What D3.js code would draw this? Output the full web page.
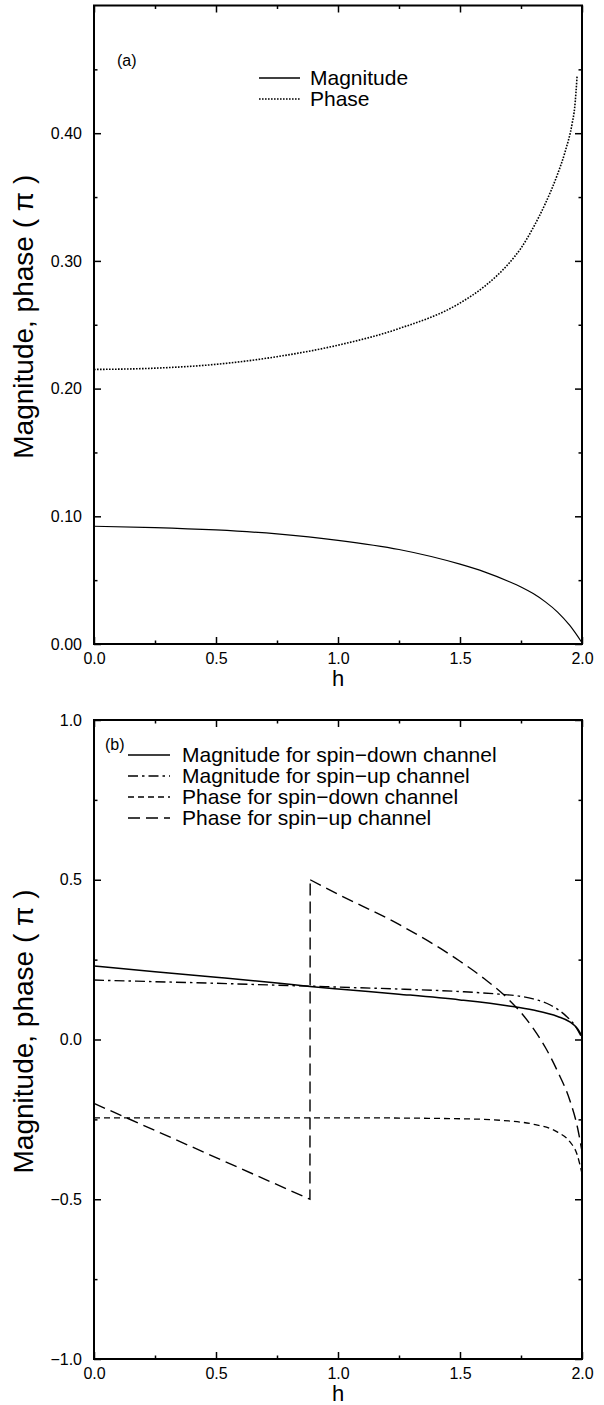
<!DOCTYPE html>
<html>
<head>
<meta charset="utf-8">
<script src="https://cdn.jsdelivr.net/npm/d3@7"></script>
<style>
  body { margin: 0; background: #fff; }
  svg { display: block; font-family: 'Liberation Sans', Arial, Helvetica, sans-serif; }
</style>
</head>
<body>
<svg></svg>
<script>
const w = 604;
const h = 1405;

// panel (a)
const hMagA = [0, 0.25, 0.5, 0.75, 1.0, 1.25, 1.5, 1.6, 1.7, 1.75, 1.8, 1.85, 1.9, 1.95, 2.0];
const magA = [0.0922, 0.0912, 0.0893, 0.0862, 0.0812, 0.074, 0.0625, 0.0565, 0.049, 0.0447, 0.0395, 0.033, 0.025, 0.0145, 0.001];
const hPhaseA = [0, 0.25, 0.5, 0.75, 1.0, 1.25, 1.5, 1.6, 1.7, 1.75, 1.8, 1.85, 1.9, 1.93, 1.96, 1.97, 1.98];
const phaseA = [0.215, 0.216, 0.219, 0.225, 0.234, 0.247, 0.267, 0.28, 0.298, 0.31, 0.326, 0.345, 0.368, 0.385, 0.408, 0.42, 0.445];

// panel (b)
const hMagDown = [0, 0.25, 0.5, 0.75, 0.885, 1.0, 1.25, 1.5, 1.7, 1.8, 1.9, 1.95, 1.98, 2.0];
const magDown = [0.23, 0.212, 0.195, 0.177, 0.166, 0.158, 0.142, 0.124, 0.105, 0.092, 0.072, 0.055, 0.035, 0.01];
const hMagUp = [0, 0.25, 0.5, 0.75, 0.885, 1.0, 1.25, 1.5, 1.66, 1.75, 1.8, 1.87, 1.94, 1.97, 2.0];
const magUp = [0.186, 0.181, 0.176, 0.17, 0.167, 0.164, 0.158, 0.15, 0.142, 0.135, 0.127, 0.108, 0.07, 0.045, 0.005];
const hPhaseDown = [0, 0.5, 1.0, 1.5, 1.7, 1.8, 1.9, 1.95, 1.98, 2.0];
const phaseDown = [-0.245, -0.245, -0.245, -0.248, -0.255, -0.265, -0.29, -0.32, -0.36, -0.42];
const hPhaseUp = [0, 0.885, 0.886, 1.0, 1.25, 1.5, 1.6, 1.7, 1.76, 1.8, 1.85, 1.9, 1.95, 1.98, 2.0];
const phaseUp = [-0.2, -0.5, 0.5, 0.455, 0.36, 0.245, 0.19, 0.125, 0.075, 0.035, -0.025, -0.1, -0.19, -0.27, -0.35];

const xTicks = [0, 0.5, 1.0, 1.5, 2.0];
const xMinor = [0.25, 0.75, 1.25, 1.75];
const yTicksA = [0, 0.1, 0.2, 0.3, 0.4];
const yMinorA = [0.05, 0.15, 0.25, 0.35, 0.45];
const yTicksB = [-1, -0.5, 0, 0.5, 1];
const yMinorB = [-0.75, -0.25, 0.25, 0.75];

const legendA = ['Magnitude', 'Phase'];
const legendB = [
  'Magnitude for spin\u2212down channel',
  'Magnitude for spin\u2212up channel',
  'Phase for spin\u2212down channel',
  'Phase for spin\u2212up channel'
];

const left = 94;
const right = 582;
const yTitle = 'Magnitude, phase ( \u03c0 )';

const svg = d3.select('svg').attr('width', w).attr('height', h);

function panel(top, bottom, yDomain, yTicks, yMinor, yFmt) {
  const x = d3.scaleLinear().domain([0, 2]).range([left, right]);
  const y = d3.scaleLinear().domain(yDomain).range([bottom, top]);
  const g = svg.append('g');

  const axes = [
    [d3.axisBottom(x), `translate(0,${bottom})`, xTicks, xMinor],
    [d3.axisTop(x), `translate(0,${top})`, xTicks, xMinor],
    [d3.axisLeft(y), `translate(${left},0)`, yTicks, yMinor],
    [d3.axisRight(y), `translate(${right},0)`, yTicks, yMinor]
  ];
  axes.forEach((a, i) => {
    const major = a[0].tickValues(a[2]).tickSize(-7).tickPadding(i === 0 ? 9 : 12)
      .tickFormat(i === 0 ? d3.format('.1f') : i === 2 ? yFmt : '');
    const ga = g.append('g').attr('transform', a[1]).call(major);
    ga.select('.domain').remove();
    ga.selectAll('line').attr('stroke-width', 1.5);
    ga.selectAll('text').style('font-size', '16px').attr('fill', '#000');
    const minor = a[0].tickValues(a[3]).tickSize(-3.5).tickFormat('');
    const gm = g.append('g').attr('transform', a[1]).call(minor);
    gm.select('.domain').remove();
    gm.selectAll('line').attr('stroke-width', 1.5);
  });

  g.append('rect')
    .attr('x', left)
    .attr('y', top)
    .attr('width', right - left)
    .attr('height', bottom - top)
    .attr('fill', 'none')
    .attr('stroke', '#000')
    .attr('stroke-width', 2);

  g.append('text')
    .text('h')
    .attr('x', (left + right) / 2)
    .attr('y', bottom + 42)
    .attr('text-anchor', 'middle')
    .style('font-size', '22px');

  g.append('text')
    .text(yTitle)
    .attr('transform', `translate(33,${(top + bottom) / 2 - 8}) rotate(-90)`)
    .attr('text-anchor', 'middle')
    .style('font-size', '28px');

  return { x, y, g };
}

function addLine(p, hs, vs, dash, width, curve) {
  const line = d3.line()
    .x(d => p.x(d[0]))
    .y(d => p.y(d[1]))
    .curve(curve || d3.curveMonotoneX);
  p.g.append('path')
    .attr('d', line(hs.map((v, i) => [v, vs[i]])))
    .attr('fill', 'none')
    .attr('stroke', '#000')
    .attr('stroke-width', width)
    .attr('stroke-dasharray', dash);
}

// (a)
const pa = panel(5.5, 644, [0, 0.5], yTicksA, yMinorA, d3.format('.2f'));
addLine(pa, hMagA, magA, null, 1.2);
addLine(pa, hPhaseA, phaseA, '1.6,1.4', 1.6);

pa.g.append('text').text('(a)').attr('x', 117).attr('y', 66).style('font-size', '16px');
const dashA = [null, '1.6,1.4'];
legendA.forEach((t, i) => {
  const yy = 78 + i * 21;
  pa.g.append('line')
    .attr('x1', 259).attr('x2', 300).attr('y1', yy).attr('y2', yy)
    .attr('stroke', '#000').attr('stroke-width', 1.3).attr('stroke-dasharray', dashA[i]);
  pa.g.append('text').text(t).attr('x', 310).attr('y', yy + 7).style('font-size', '21px');
});

// (b)
const pb = panel(720, 1359, [-1, 1], yTicksB, yMinorB, d3.format('.1f'));
const dashB = [null, '10,4,2.5,4', '6,4', '12,6'];
addLine(pb, hMagDown, magDown, dashB[0], 1.5);
addLine(pb, hMagUp, magUp, dashB[1], 1.4);
addLine(pb, hPhaseDown, phaseDown, dashB[2], 1.3);
// jump segment drawn straight, rest smooth
addLine(pb, hPhaseUp.slice(0, 3), phaseUp.slice(0, 3), dashB[3], 1.4, d3.curveLinear);
addLine(pb, hPhaseUp.slice(2), phaseUp.slice(2), dashB[3], 1.4);

pb.g.append('text').text('(b)').attr('x', 105).attr('y', 750).style('font-size', '16px');
legendB.forEach((t, i) => {
  const yy = 755 + i * 21;
  pb.g.append('line')
    .attr('x1', 128).attr('x2', 170).attr('y1', yy).attr('y2', yy)
    .attr('stroke', '#000').attr('stroke-width', 1.4).attr('stroke-dasharray', dashB[i]);
  pb.g.append('text').text(t).attr('x', 182).attr('y', yy + 7).style('font-size', '21px');
});
</script>
</body>
</html>
